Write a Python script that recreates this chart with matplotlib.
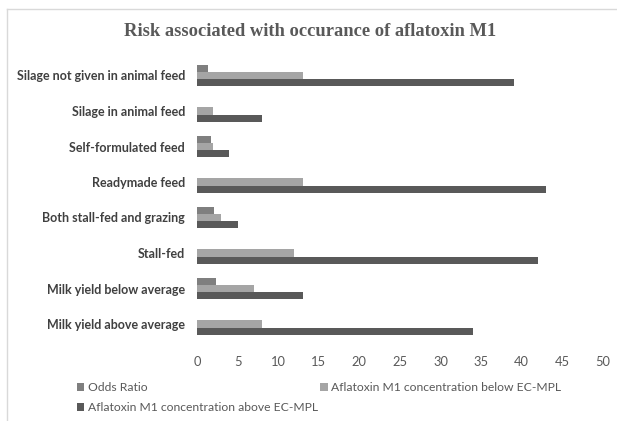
import matplotlib
matplotlib.use("Agg")
import matplotlib.pyplot as plt
import numpy as np
from matplotlib.lines import Line2D

categories = ["Silage not given in animal feed", "Silage in animal feed", "Self-formulated feed",
              "Readymade feed", "Both stall-fed and grazing", "Stall-fed",
              "Milk yield below average", "Milk yield above average"]
odds_ratio = [1.35, 0, 1.7, 0, 2.1, 0, 2.3, 0]
below_mpl = [13, 2, 2, 13, 3, 12, 7, 8]
above_mpl = [39, 8, 4, 43, 5, 42, 13, 34]
series_names = ["Odds Ratio", "Aflatoxin M1 concentration below EC-MPL",
                "Aflatoxin M1 concentration above EC-MPL"]
xticks = [0, 5, 10, 15, 20, 25, 30, 35, 40, 45, 50]

W, H = 617, 421
fig = plt.figure(figsize=(W / 100, H / 100), dpi=100)
ax = fig.add_axes([197 / W, 1 - 341.75 / H, (603 - 197) / W, (341.75 - 57.75) / H])

y = np.arange(len(categories))
bh = 0.2
b1 = ax.barh(y - bh, odds_ratio, height=bh, color="#7f7f7f")
b2 = ax.barh(y, below_mpl, height=bh, color="#a5a5a5")
b3 = ax.barh(y + bh, above_mpl, height=bh, color="#595959")

ax.set_ylim(len(categories) - 0.5, -0.5)
ax.set_xlim(0, 50)
ax.set_xticks(xticks)
ax.set_xticklabels([str(t) for t in xticks], fontsize=9.3, color="#595959", family="Lato")
ax.set_yticks(y)
ax.set_yticklabels(categories, fontsize=9.0, color="#404040", fontweight="bold", family="Lato")
ax.tick_params(axis="both", length=0)
ax.tick_params(axis="y", pad=8.5)
ax.tick_params(axis="x", pad=10)
for s in ax.spines.values():
    s.set_visible(False)

fig.text(310 / W, 1 - 32 / H, "Risk associated with occurance of aflatoxin M1",
         ha="center", va="center", fontsize=13.3, fontweight="bold",
         family="Liberation Serif", color="#595959")

# chart frame
fig.add_artist(Line2D([7 / W, 7 / W], [0, 1 - 9 / H], transform=fig.transFigure,
                      color="#d9d9d9", lw=1))
fig.add_artist(Line2D([7 / W, 1], [1 - 9 / H, 1 - 9 / H], transform=fig.transFigure,
                      color="#d9d9d9", lw=1))

leg = fig.legend([b1, b3, b2], [series_names[0], series_names[2], series_names[1]],
                 ncol=2, loc="upper left", bbox_to_anchor=(71 / W, 1 - 376 / H),
                 frameon=False, handlelength=0.6, handleheight=0.6, handletextpad=0.3,
                 columnspacing=0.2, labelspacing=0.75, borderpad=0,
                 prop={"family": "Lato", "size": 8.7})
for t in leg.get_texts():
    t.set_color("#595959")

fig.savefig("out.png", dpi=100)
